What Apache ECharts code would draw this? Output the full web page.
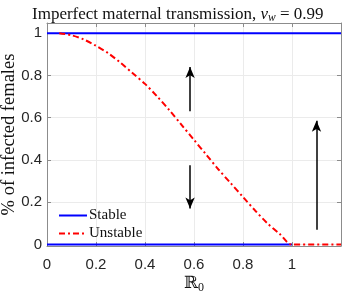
<!DOCTYPE html>
<html><head><meta charset="utf-8">
<script src="https://cdn.jsdelivr.net/npm/echarts@6/dist/echarts.min.js"></script>
<style>html,body{margin:0;padding:0;background:#fff}#c{width:342px;height:291px}</style>
</head><body><div id="c"></div>
<script>
// Data
const xTicks = [0, 0.2, 0.4, 0.6, 0.8, 1];
const yTicks = [0, 0.2, 0.4, 0.6, 0.8, 1];
const stableTopX = [0, 1.2];
const stableTopY = [1, 1];
const stableBottomX = [0, 1];
const stableBottomY = [0, 0];
const unstableX = [0.05, 0.1, 0.15, 0.2, 0.25, 0.3, 0.35, 0.4, 0.45, 0.5, 0.55, 0.6, 0.65, 0.7, 0.75, 0.8, 0.85, 0.9, 0.95, 1.0, 1.2];
const unstableY = [1.0, 0.99, 0.97, 0.94, 0.905, 0.86, 0.81, 0.76, 0.70, 0.635, 0.565, 0.495, 0.425, 0.355, 0.29, 0.225, 0.16, 0.10, 0.05, 0, 0];
const arrowX = [0.584, 0.584, 1.10];
const arrowFrom = [0.63, 0.375, 0.07];
const arrowTo = [0.84, 0.17, 0.585];

const pairs = (xs, ys) => xs.map((x, i) => [x, ys[i]]);
const serif = '"Liberation Serif", "DejaVu Serif", serif';
const sans = '"Liberation Sans", Arial, sans-serif';
const axisCol = '#8c8c8c';
const txtCol = '#262626';

const chart = echarts.init(document.getElementById('c'));
chart.setOption({
  animation: false,
  backgroundColor: '#fff',
  title: {
    text: 'Imperfect maternal transmission, {i|v}{s|w} = 0.99',
    left: 27, top: 1,
    textStyle: {
      fontFamily: serif, fontSize: 17, fontWeight: 'normal', color: '#111',
      rich: {
        i: {fontFamily: serif, fontStyle: 'italic', fontSize: 17, color: '#111'},
        s: {fontFamily: serif, fontStyle: 'italic', fontSize: 11.5, color: '#111', verticalAlign: 'bottom', padding: [6, 0, 0, 0]}
      }
    }
  },
  legend: {
    orient: 'vertical', left: 53, top: 203, itemWidth: 28, itemHeight: 14, itemGap: 3,
    itemStyle: {opacity: 0},
    textStyle: {fontFamily: serif, fontSize: 15, color: '#111', padding: [0, 0, 0, -3]},
    data: ['Stable', 'Unstable']
  },
  grid: {left: 47, right: 1, top: 23, bottom: 45, containLabel: false, outerBoundsMode: 'none'},
  xAxis: [{
    type: 'value', min: 0, max: 1.2,
    name: 'ℝ{s|0}', nameLocation: 'middle', nameGap: 27, nameMoveOverlap: false,
    nameTextStyle: {fontFamily: '"DejaVu Serif", serif', fontSize: 17, color: '#111',
      rich: {s: {fontFamily: serif, fontSize: 12, color: '#111', padding: [9, 0, 0, 0]}}},
    axisLine: {show: true, onZero: false, lineStyle: {color: axisCol}},
    axisTick: {show: true, inside: true, length: 4, customValues: xTicks, lineStyle: {color: axisCol}},
    axisLabel: {customValues: xTicks, margin: 11, fontFamily: sans, fontSize: 15, color: txtCol, formatter: v => String(v)},
    splitLine: {show: true, lineStyle: {color: '#ebebeb'}}
  }, {
    type: 'value', min: 0, max: 1.2, position: 'top',
    axisLine: {show: true, onZero: false, lineStyle: {color: axisCol}},
    axisTick: {show: true, inside: true, length: 4, customValues: xTicks, lineStyle: {color: axisCol}},
    axisLabel: {show: false}, splitLine: {show: false}
  }],
  yAxis: [{
    type: 'value', min: -0.007, max: 1.048,
    name: '% of infected females', nameLocation: 'middle', nameGap: 28, nameMoveOverlap: false,
    nameTextStyle: {fontFamily: serif, fontSize: 18.5, color: '#111'},
    axisLine: {show: true, onZero: false, lineStyle: {color: axisCol}},
    axisTick: {show: true, inside: true, length: 4, customValues: yTicks, lineStyle: {color: axisCol}},
    axisLabel: {customValues: yTicks, margin: 5, fontFamily: sans, fontSize: 15, color: txtCol, formatter: v => String(v)},
    splitLine: {show: true, lineStyle: {color: '#ebebeb'}}
  }, {
    type: 'value', min: -0.007, max: 1.048, position: 'right',
    axisLine: {show: true, onZero: false, lineStyle: {color: axisCol}},
    axisTick: {show: true, inside: true, length: 4, customValues: yTicks, lineStyle: {color: axisCol}},
    axisLabel: {show: false}, splitLine: {show: false}
  }],
  series: [
    {name: 'Stable', type: 'line', data: pairs(stableTopX, stableTopY), symbol: 'none', z: 3,
     lineStyle: {color: '#0000ff', width: 2}, itemStyle: {color: '#0000ff'}},
    {name: 'Stable', type: 'line', data: pairs(stableBottomX, stableBottomY), symbol: 'none', z: 3,
     lineStyle: {color: '#0000ff', width: 2}, itemStyle: {color: '#0000ff'}},
    {name: 'Unstable', type: 'line', data: pairs(unstableX, unstableY), symbol: 'none', smooth: 0.3, z: 4,
     lineStyle: {color: '#ff0000', width: 2, type: [6, 3, 2, 3]}, itemStyle: {color: '#ff0000'},
     markLine: {
       silent: true, symbol: ['none', 'arrow'], symbolSize: [7, 11],
       label: {show: false},
       lineStyle: {color: '#000', width: 1.5, type: 'solid'},
       data: arrowX.map((x, i) => [{coord: [x, arrowFrom[i]]}, {coord: [x, arrowTo[i]]}])
     }}
  ]
});
</script></body></html>
